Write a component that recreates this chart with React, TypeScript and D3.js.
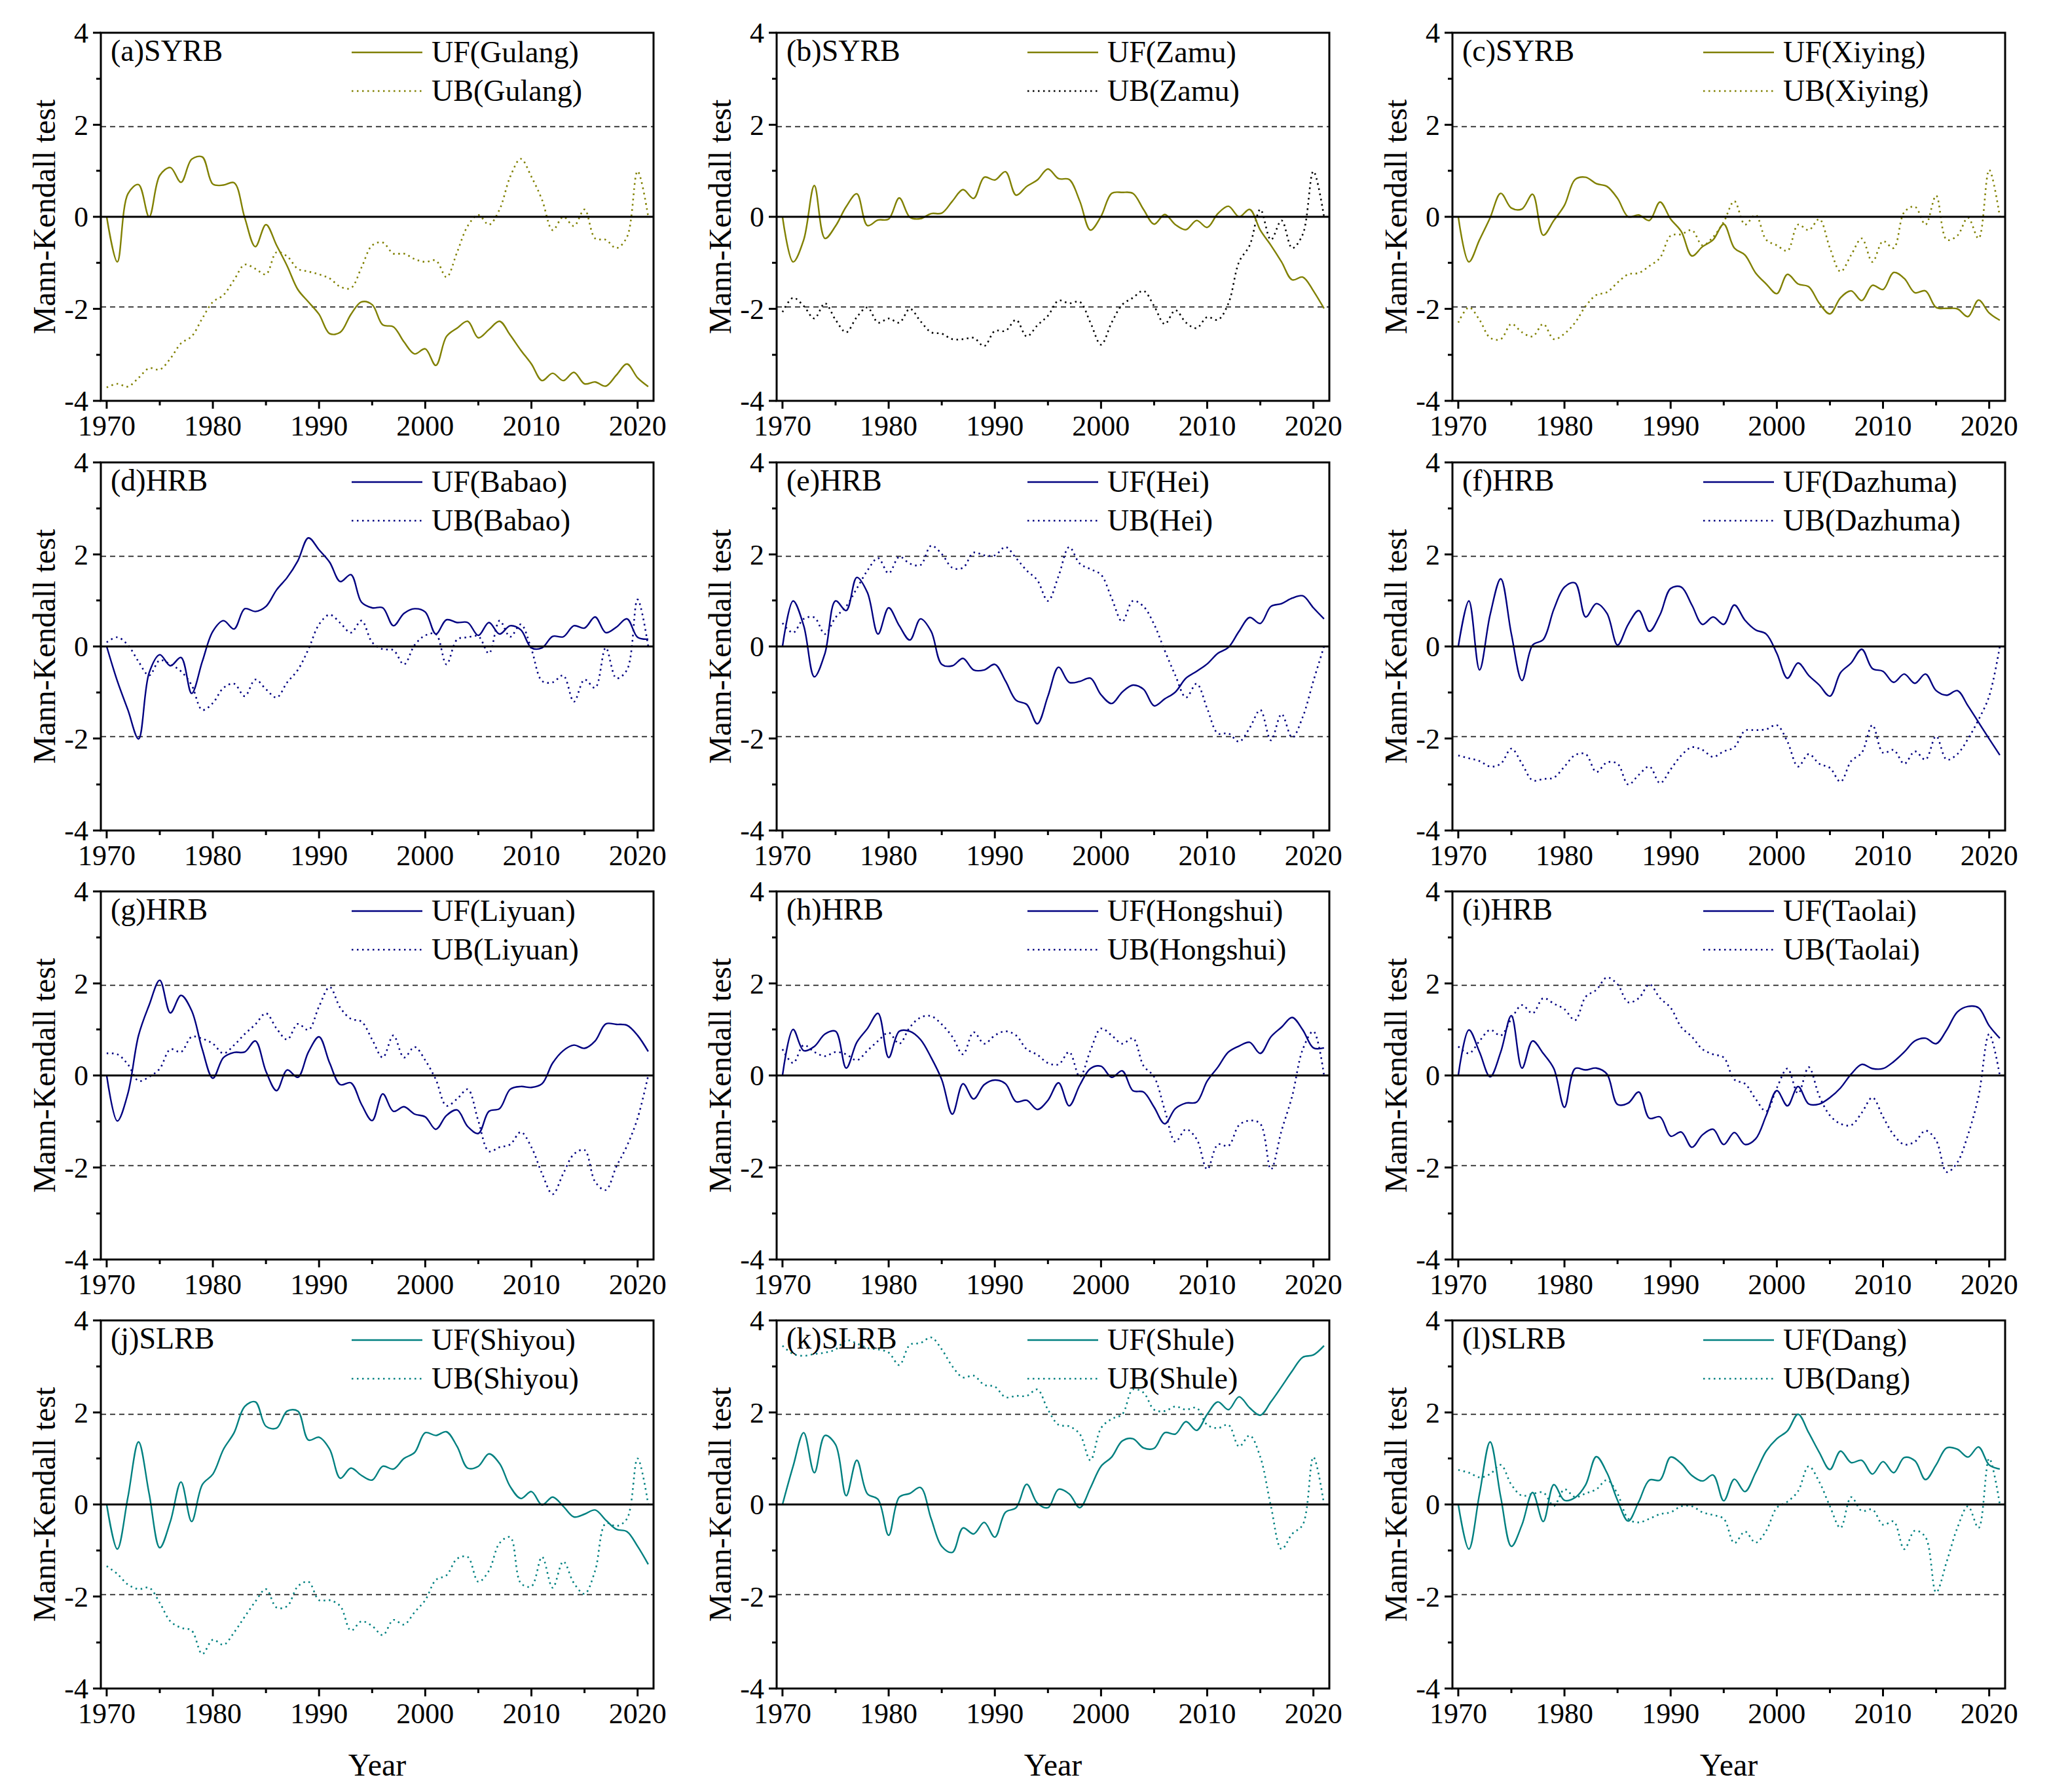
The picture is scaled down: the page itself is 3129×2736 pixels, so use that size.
import * as d3 from 'd3';

// Mann-Kendall UF / UB statistics, 1970-2021, one value per year
const years = d3.range(1970, 2022);

const ufGulang = [
  0, -0.98, 0.5, 0.7, 0.0, 0.9, 1.07, 0.75, 1.25, 1.3,
  0.71, 0.69, 0.74, -0.02, -0.65, -0.17, -0.62, -1.07, -1.58, -1.85,
  -2.12, -2.54, -2.51, -2.12, -1.85, -1.91, -2.35, -2.39, -2.72, -2.98,
  -2.87, -3.23, -2.6, -2.42, -2.27, -2.63, -2.45, -2.27, -2.57, -2.9,
  -3.2, -3.56, -3.4, -3.56, -3.38, -3.63, -3.59, -3.68, -3.44, -3.2,
  -3.5, -3.69,
];
const ubGulang = [
  -3.71, -3.63, -3.69, -3.5, -3.29, -3.32, -3.08, -2.75, -2.6, -2.21,
  -1.85, -1.7, -1.37, -1.04, -1.13, -1.25, -0.77, -0.86, -1.13, -1.19,
  -1.25, -1.34, -1.52, -1.55, -1.1, -0.62, -0.56, -0.8, -0.8, -0.92,
  -0.98, -0.95, -1.31, -0.77, -0.2, 0.04, -0.17, 0.16, 0.87, 1.26,
  0.87, 0.37, -0.29, 0.0, -0.2, 0.16, -0.47, -0.5, -0.68, -0.44,
  0.99, 0,
];
const ufZamu = [
  0, -0.98, -0.5, 0.68, -0.47, -0.2, 0.22, 0.5, -0.19, -0.07,
  -0.05, 0.41, -0.01, -0.04, 0.07, 0.08, 0.34, 0.59, 0.4, 0.86,
  0.8, 0.98, 0.47, 0.66, 0.8, 1.04, 0.83, 0.81, 0.34, -0.29,
  0.01, 0.51, 0.53, 0.51, 0.16, -0.16, 0.05, -0.17, -0.28, -0.08,
  -0.23, 0.07, 0.23, 0, 0.16, -0.29, -0.62, -0.98, -1.37, -1.31,
  -1.61, -1.99,
];
const ubZamu = [
  -2.07, -1.76, -1.94, -2.21, -1.88, -2.24, -2.51, -2.18, -1.97, -2.3,
  -2.21, -2.3, -2.0, -2.27, -2.51, -2.54, -2.66, -2.66, -2.63, -2.81,
  -2.48, -2.48, -2.24, -2.6, -2.36, -2.15, -1.82, -1.88, -1.85, -2.3,
  -2.78, -2.3, -1.91, -1.76, -1.61, -1.94, -2.33, -2.03, -2.3, -2.42,
  -2.18, -2.24, -1.88, -0.98, -0.62, 0.16, -0.5, -0.08, -0.68, -0.38,
  0.99, 0,
];
const ufXiying = [
  0, -0.98, -0.5, -0.02, 0.51, 0.19, 0.17, 0.49, -0.4, -0.08,
  0.25, 0.81, 0.86, 0.72, 0.66, 0.4, 0.0, 0.04, -0.08, 0.32,
  -0.05, -0.32, -0.85, -0.65, -0.5, -0.16, -0.68, -0.83, -1.22, -1.46,
  -1.67, -1.25, -1.46, -1.52, -1.88, -2.11, -1.76, -1.61, -1.82, -1.49,
  -1.58, -1.21, -1.34, -1.65, -1.61, -1.97, -1.99, -2.0, -2.17, -1.81,
  -2.09, -2.25,
];
const ubXiying = [
  -2.3, -1.97, -2.24, -2.63, -2.66, -2.33, -2.51, -2.6, -2.33, -2.66,
  -2.54, -2.3, -1.94, -1.7, -1.64, -1.43, -1.25, -1.22, -1.07, -0.89,
  -0.41, -0.38, -0.29, -0.62, -0.44, -0.11, 0.34, -0.17, 0.04, -0.5,
  -0.62, -0.74, -0.17, -0.29, -0.05, -0.68, -1.19, -0.83, -0.47, -0.98,
  -0.53, -0.68, 0.1, 0.22, -0.17, 0.46, -0.5, -0.41, -0.02, -0.47,
  1.02, 0,
];
const ufBabao = [
  0, -0.75, -1.38, -2.01, -0.57, -0.18, -0.42, -0.24, -1.02, -0.33,
  0.33, 0.56, 0.38, 0.82, 0.76, 0.87, 1.23, 1.5, 1.86, 2.36,
  2.1, 1.83, 1.41, 1.56, 0.96, 0.84, 0.84, 0.45, 0.72, 0.82,
  0.75, 0.27, 0.58, 0.52, 0.52, 0.24, 0.52, 0.27, 0.45, 0.36,
  -0.03, -0.03, 0.22, 0.21, 0.45, 0.4, 0.64, 0.3, 0.42, 0.6,
  0.2, 0.16,
];
const ubBabao = [
  0.09, 0.2, 0.03, -0.33, -0.63, -0.3, -0.39, -0.54, -0.84, -1.38,
  -1.23, -0.9, -0.81, -1.08, -0.72, -0.93, -1.11, -0.78, -0.51, -0.06,
  0.48, 0.69, 0.51, 0.3, 0.56, 0.09, -0.06, -0.08, -0.39, 0.03,
  0.24, 0.27, -0.39, 0.15, 0.2, 0.22, -0.15, 0.56, 0.21, 0.48,
  -0.06, -0.75, -0.78, -0.63, -1.2, -0.72, -0.9, -0.03, -0.69, -0.51,
  1.02, 0,
];
const ufHei = [
  0, 0.99, 0.45, -0.66, -0.15, 0.99, 0.78, 1.5, 1.17, 0.27,
  0.84, 0.45, 0.14, 0.6, 0.33, -0.39, -0.42, -0.26, -0.51, -0.51,
  -0.39, -0.75, -1.17, -1.26, -1.68, -1.08, -0.45, -0.78, -0.76, -0.69,
  -1.05, -1.24, -0.99, -0.84, -0.93, -1.29, -1.14, -0.99, -0.69, -0.54,
  -0.38, -0.15, -0.02, 0.33, 0.63, 0.5, 0.87, 0.93, 1.05, 1.1,
  0.84, 0.6,
];
const ubHei = [
  0.51, 0.3, 0.6, 0.63, 0.27, 0.63, 0.87, 1.26, 1.65, 1.92,
  1.59, 1.95, 1.8, 1.77, 2.19, 2.01, 1.71, 1.71, 2.04, 1.98,
  1.98, 2.16, 1.92, 1.65, 1.44, 0.99, 1.53, 2.16, 1.8, 1.68,
  1.56, 1.05, 0.54, 0.99, 0.87, 0.48, -0.09, -0.63, -1.11, -0.81,
  -1.35, -1.89, -1.89, -2.07, -1.77, -1.38, -2.04, -1.47, -1.98, -1.53,
  -0.75, 0,
];
const ufDazhuma = [
  0, 0.99, -0.51, 0.69, 1.47, 0.27, -0.74, 0.03, 0.15, 0.81,
  1.29, 1.38, 0.64, 0.93, 0.72, 0.03, 0.48, 0.78, 0.33, 0.69,
  1.26, 1.29, 0.9, 0.48, 0.64, 0.48, 0.9, 0.57, 0.36, 0.27,
  -0.15, -0.69, -0.36, -0.63, -0.84, -1.08, -0.57, -0.36, -0.06, -0.48,
  -0.54, -0.78, -0.6, -0.8, -0.6, -0.96, -1.06, -0.96, -1.29, -1.65,
  -2.01, -2.36,
];
const ubDazhuma = [
  -2.37, -2.43, -2.49, -2.61, -2.55, -2.22, -2.55, -2.91, -2.88, -2.85,
  -2.61, -2.36, -2.34, -2.73, -2.52, -2.55, -3.0, -2.79, -2.61, -2.97,
  -2.67, -2.37, -2.19, -2.25, -2.4, -2.28, -2.19, -1.83, -1.82, -1.8,
  -1.71, -2.07, -2.61, -2.34, -2.55, -2.64, -2.94, -2.49, -2.31, -1.71,
  -2.31, -2.25, -2.55, -2.28, -2.46, -1.95, -2.46, -2.34, -2.01, -1.59,
  -1.08, 0,
];
const ufLiyuan = [
  0, -0.99, -0.39, 0.87, 1.53, 2.07, 1.36, 1.74, 1.41, 0.57,
  -0.06, 0.39, 0.5, 0.51, 0.75, 0.09, -0.33, 0.12, -0.04, 0.51,
  0.84, 0.27, -0.2, -0.16, -0.63, -0.98, -0.4, -0.78, -0.68, -0.84,
  -0.9, -1.17, -0.87, -0.75, -1.11, -1.26, -0.78, -0.72, -0.3, -0.24,
  -0.26, -0.18, 0.27, 0.54, 0.66, 0.59, 0.75, 1.12, 1.11, 1.09,
  0.87, 0.52,
];
const ubLiyuan = [
  0.48, 0.46, 0.24, -0.12, -0.03, 0.15, 0.57, 0.51, 0.84, 0.8,
  0.69, 0.48, 0.66, 0.9, 1.11, 1.35, 1.02, 0.78, 1.12, 0.99,
  1.5, 1.92, 1.47, 1.23, 1.17, 0.78, 0.39, 0.87, 0.39, 0.62,
  0.33, -0.09, -0.66, -0.51, -0.3, -0.99, -1.65, -1.56, -1.5, -1.23,
  -1.56, -2.13, -2.58, -2.13, -1.71, -1.62, -2.31, -2.49, -1.98, -1.53,
  -0.93, 0,
];
const ufHongshui = [
  0, 1.0, 0.54, 0.63, 0.9, 0.96, 0.16, 0.72, 1.02, 1.35,
  0.39, 0.96, 0.96, 0.78, 0.39, -0.09, -0.84, -0.18, -0.51, -0.2,
  -0.1, -0.18, -0.57, -0.54, -0.74, -0.54, -0.16, -0.66, -0.21, 0.15,
  0.2, -0.04, 0.1, -0.33, -0.36, -0.69, -1.05, -0.72, -0.6, -0.58,
  -0.12, 0.18, 0.51, 0.64, 0.72, 0.48, 0.84, 1.05, 1.26, 0.99,
  0.6, 0.6,
];
const ubHongshui = [
  0.57, 0.27, 0.66, 0.51, 0.42, 0.51, 0.46, 0.33, 0.54, 0.75,
  0.93, 0.69, 1.05, 1.26, 1.29, 1.11, 0.84, 0.46, 0.94, 0.69,
  0.87, 0.96, 0.87, 0.57, 0.45, 0.27, 0.24, 0.51, -0.03, 0.54,
  1.02, 0.87, 0.69, 0.81, 0.21, -0.03, -0.75, -1.44, -1.17, -1.38,
  -2.04, -1.5, -1.53, -1.08, -0.98, -1.05, -2.04, -1.2, -0.45, 0.57,
  0.96, 0,
];
const ufTaolai = [
  0, 0.99, 0.51, -0.03, 0.51, 1.3, 0.16, 0.75, 0.48, 0.15,
  -0.69, 0.15, 0.12, 0.16, 0.03, -0.63, -0.6, -0.36, -0.93, -0.9,
  -1.32, -1.23, -1.56, -1.29, -1.17, -1.5, -1.24, -1.5, -1.38, -0.87,
  -0.33, -0.66, -0.24, -0.62, -0.62, -0.48, -0.27, 0.03, 0.24, 0.15,
  0.15, 0.3, 0.51, 0.75, 0.81, 0.69, 0.99, 1.38, 1.5, 1.47,
  1.08, 0.81,
];
const ubTaolai = [
  0.63, 0.48, 0.75, 0.99, 0.87, 1.23, 1.53, 1.35, 1.68, 1.56,
  1.44, 1.2, 1.71, 1.86, 2.13, 1.98, 1.59, 1.68, 1.98, 1.68,
  1.47, 1.05, 0.84, 0.57, 0.46, 0.39, -0.09, -0.18, -0.51, -0.78,
  -0.27, 0.15, -0.39, 0.18, -0.45, -0.87, -1.05, -1.08, -0.81, -0.48,
  -0.9, -1.29, -1.5, -1.44, -1.2, -1.41, -2.1, -1.89, -1.29, -0.45,
  0.9, 0,
];
const ufShiyou = [
  0, -0.97, 0.16, 1.36, 0.23, -0.94, -0.37, 0.49, -0.37, 0.43,
  0.66, 1.2, 1.56, 2.13, 2.23, 1.7, 1.66, 2.03, 2.03, 1.4,
  1.46, 1.2, 0.57, 0.79, 0.63, 0.53, 0.83, 0.77, 1.0, 1.13,
  1.56, 1.5, 1.58, 1.26, 0.79, 0.83, 1.1, 0.89, 0.39, 0.13,
  0.28, -0.01, 0.16, -0.04, -0.27, -0.21, -0.12, -0.34, -0.54, -0.59,
  -0.91, -1.3,
];
const ubShiyou = [
  -1.34, -1.51, -1.74, -1.84, -1.81, -2.14, -2.54, -2.68, -2.74, -3.25,
  -2.94, -3.05, -2.78, -2.44, -2.11, -1.84, -2.24, -2.21, -1.78, -1.68,
  -2.08, -2.08, -2.21, -2.74, -2.54, -2.64, -2.84, -2.51, -2.61, -2.34,
  -2.08, -1.64, -1.54, -1.18, -1.14, -1.68, -1.44, -0.84, -0.71, -1.71,
  -1.78, -1.14, -1.81, -1.24, -1.71, -1.94, -1.44, -0.41, -0.47, -0.31,
  1.0, 0,
];
const ufShule = [
  0, 0.83, 1.56, 0.69, 1.5, 1.3, 0.19, 0.96, 0.23, 0.11,
  -0.67, 0.16, 0.24, 0.37, -0.31, -0.91, -1.04, -0.51, -0.64, -0.39,
  -0.71, -0.17, -0.07, 0.44, 0.03, -0.07, 0.33, 0.23, -0.07, 0.36,
  0.83, 1.03, 1.38, 1.43, 1.23, 1.22, 1.56, 1.53, 1.8, 1.61,
  1.96, 2.23, 2.06, 2.34, 2.1, 1.94, 2.23, 2.56, 2.9, 3.2,
  3.25, 3.45,
];
const ubShule = [
  3.45, 3.27, 3.23, 3.27, 3.3, 3.37, 3.57, 3.5, 3.4, 3.37,
  3.3, 3.03, 3.47, 3.51, 3.63, 3.37, 3.0, 2.76, 2.8, 2.6,
  2.56, 2.33, 2.36, 2.36, 2.5, 2.06, 1.73, 1.7, 1.53, 0.96,
  1.66, 1.86, 1.96, 2.5, 2.43, 2.06, 2.03, 2.13, 2.06, 2.1,
  1.73, 1.66, 1.73, 1.26, 1.5, 1.03, -0.04, -0.97, -0.64, -0.44,
  1.03, 0,
];
const ufDang = [
  0, -0.97, 0.23, 1.36, 0.16, -0.91, -0.44, 0.26, -0.37, 0.43,
  0.09, 0.15, 0.43, 1.04, 0.69, 0.09, -0.36, 0.06, 0.53, 0.53,
  1.03, 0.89, 0.63, 0.51, 0.64, 0.08, 0.55, 0.28, 0.69, 1.16,
  1.43, 1.6, 1.96, 1.56, 1.13, 0.76, 1.16, 0.91, 0.96, 0.66,
  0.93, 0.69, 1.02, 0.95, 0.54, 0.86, 1.23, 1.2, 1.03, 1.25,
  0.86, 0.77,
];
const ubDang = [
  0.75, 0.69, 0.59, 0.66, 0.86, 0.43, 0.19, 0.23, 0.26, -0.03,
  0.33, 0.16, 0.24, 0.33, 0.53, 0.23, -0.31, -0.39, -0.31, -0.21,
  -0.17, -0.04, -0.04, -0.17, -0.23, -0.31, -0.84, -0.59, -0.83, -0.57,
  -0.07, 0.06, 0.29, 0.83, 0.49, -0.04, -0.51, 0.16, -0.14, -0.11,
  -0.44, -0.37, -0.97, -0.57, -0.71, -1.91, -1.24, -0.51, -0.04, -0.51,
  1.0, 0,
];

const yTicks = [-4, -2, 0, 2, 4];
const yMinorTicks = [-3, -1, 1, 3];
const xTicks = [1970, 1980, 1990, 2000, 2010, 2020];
const xMinorTicks = [1975, 1985, 1995, 2005, 2015];
const critical = 1.96;

const OLIVE = '#808000';
const NAVY = '#000080';
const TEAL = '#008080';

const panels = [
  { label: '(a)SYRB', station: 'Gulang', uf: ufGulang, ub: ubGulang, color: OLIVE },
  { label: '(b)SYRB', station: 'Zamu', uf: ufZamu, ub: ubZamu, color: OLIVE, ubColor: '#000000' },
  { label: '(c)SYRB', station: 'Xiying', uf: ufXiying, ub: ubXiying, color: OLIVE },
  { label: '(d)HRB', station: 'Babao', uf: ufBabao, ub: ubBabao, color: NAVY },
  { label: '(e)HRB', station: 'Hei', uf: ufHei, ub: ubHei, color: NAVY },
  { label: '(f)HRB', station: 'Dazhuma', uf: ufDazhuma, ub: ubDazhuma, color: NAVY },
  { label: '(g)HRB', station: 'Liyuan', uf: ufLiyuan, ub: ubLiyuan, color: NAVY },
  { label: '(h)HRB', station: 'Hongshui', uf: ufHongshui, ub: ubHongshui, color: NAVY },
  { label: '(i)HRB', station: 'Taolai', uf: ufTaolai, ub: ubTaolai, color: NAVY },
  { label: '(j)SLRB', station: 'Shiyou', uf: ufShiyou, ub: ubShiyou, color: TEAL },
  { label: '(k)SLRB', station: 'Shule', uf: ufShule, ub: ubShule, color: TEAL },
  { label: '(l)SLRB', station: 'Dang', uf: ufDang, ub: ubDang, color: TEAL },
];

const WIDTH = 3129;
const HEIGHT = 2736;
const colLeft = [154, 1186, 2218];
const rowTop = [50, 706, 1361, 2016];
const plotW = 844;
const plotH = 562;
const FONT = '"Liberation Serif", "Times New Roman", serif';

const x = d3.scaleLinear().domain([1969.45, 2021.5]).range([0, plotW]);
const y = d3.scaleLinear().domain([-4, 4]).range([plotH, 0]);

const line = d3
  .line<number>()
  .x((_, i) => x(years[i]))
  .y(d => y(d))
  .curve(d3.curveCatmullRom.alpha(0.5));

type PanelProps = {
  label: string;
  station: string;
  uf: number[];
  ub: number[];
  color: string;
  ubColor?: string;
  left: number;
  top: number;
  showYear: boolean;
};

function Panel({ label, station, uf, ub, color, ubColor, left, top, showYear }: PanelProps) {
  const ubStroke = ubColor || color;
  return (
    <g transform={`translate(${left},${top})`} fontFamily={FONT}>
      {/* significance thresholds */}
      {[critical, -critical].map(v => (
        <line key={v} x1={0} x2={plotW} y1={y(v)} y2={y(v)}
          stroke="#222" strokeWidth={1.8} strokeDasharray="8,6" />
      ))}

      <path d={line(ub) || ''} fill="none" stroke={ubStroke} strokeWidth={2.6}
        strokeDasharray="2.5,5.5" />
      <path d={line(uf) || ''} fill="none" stroke={color} strokeWidth={2.4} />

      <line x1={0} x2={plotW} y1={y(0)} y2={y(0)} stroke="#000" strokeWidth={3} />

      {/* frame */}
      <rect x={0} y={0} width={plotW} height={plotH} fill="none" stroke="#000" strokeWidth={3} />

      {/* y axis */}
      {yTicks.map(t => (
        <g key={t}>
          <line x1={-12} x2={0} y1={y(t)} y2={y(t)} stroke="#000" strokeWidth={3} />
          <text x={-19} y={y(t)} dy="0.35em" textAnchor="end" fontSize={44}>{t}</text>
        </g>
      ))}
      {yMinorTicks.map(t => (
        <line key={t} x1={-7} x2={0} y1={y(t)} y2={y(t)} stroke="#000" strokeWidth={3} />
      ))}

      {/* x axis */}
      {xTicks.map(t => (
        <g key={t}>
          <line x1={x(t)} x2={x(t)} y1={plotH} y2={plotH + 12} stroke="#000" strokeWidth={3} />
          <text x={x(t)} y={plotH + 53} textAnchor="middle" fontSize={44}>{t}</text>
        </g>
      ))}
      {xMinorTicks.map(t => (
        <line key={t} x1={x(t)} x2={x(t)} y1={plotH} y2={plotH + 7} stroke="#000" strokeWidth={3} />
      ))}

      <text transform={`translate(-70,${plotH / 2}) rotate(-90)`} textAnchor="middle" fontSize={48}>
        Mann-Kendall test
      </text>
      {showYear && (
        <text x={plotW / 2} y={plotH + 133} textAnchor="middle" fontSize={48}>Year</text>
      )}

      <text x={15} y={43} fontSize={46}>{label}</text>

      {/* legend */}
      <line x1={383} x2={491} y1={30} y2={30} stroke={color} strokeWidth={2.4} />
      <text x={505} y={30} dy="0.33em" fontSize={46}>{`UF(${station})`}</text>
      <line x1={383} x2={491} y1={89} y2={89} stroke={ubStroke} strokeWidth={2.6}
        strokeDasharray="2.5,5.5" />
      <text x={505} y={89} dy="0.33em" fontSize={46}>{`UB(${station})`}</text>
    </g>
  );
}

export default function App() {
  return (
    <svg width={WIDTH} height={HEIGHT} viewBox={`0 0 ${WIDTH} ${HEIGHT}`}
      style={{ position: 'absolute', left: 0, top: 0, background: '#fff' }}>
      <rect width={WIDTH} height={HEIGHT} fill="#fff" />
      {panels.map((p, i) => (
        <Panel key={p.label} {...p}
          left={colLeft[i % 3]} top={rowTop[Math.floor(i / 3)]}
          showYear={Math.floor(i / 3) === 3} />
      ))}
    </svg>
  );
}
